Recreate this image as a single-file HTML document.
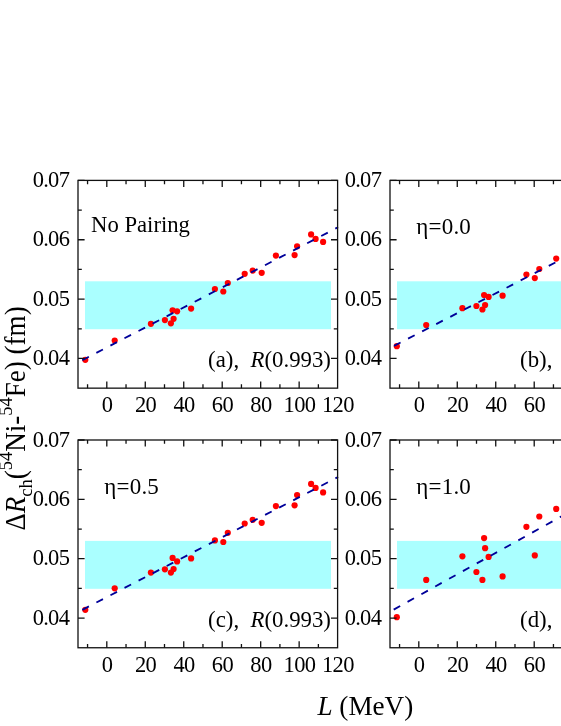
<!DOCTYPE html>
<html><head><meta charset="utf-8"><title>chart</title>
<style>
html,body{margin:0;padding:0;background:#fff;}
body{width:561px;height:726px;overflow:hidden;}
svg{display:block;will-change:transform;}
text{font-family:"Liberation Serif",serif;fill:#000;}
</style></head><body>
<svg width="561" height="726" viewBox="0 0 561 726">
<rect width="561" height="726" fill="#fff"/>
<g>
<rect x="85.0" y="281.3" width="246.0" height="47.9" fill="#aaffff"/>
<circle cx="85.3" cy="359.8" r="3.1" fill="#ff0000"/>
<circle cx="114.7" cy="340.5" r="3.1" fill="#ff0000"/>
<circle cx="150.9" cy="323.8" r="3.1" fill="#ff0000"/>
<circle cx="164.9" cy="320.1" r="3.1" fill="#ff0000"/>
<circle cx="170.9" cy="323.3" r="3.1" fill="#ff0000"/>
<circle cx="173.6" cy="318.8" r="3.1" fill="#ff0000"/>
<circle cx="172.6" cy="310.3" r="3.1" fill="#ff0000"/>
<circle cx="177.1" cy="311.3" r="3.1" fill="#ff0000"/>
<circle cx="191.1" cy="308.6" r="3.1" fill="#ff0000"/>
<circle cx="214.9" cy="289.0" r="3.1" fill="#ff0000"/>
<circle cx="223.3" cy="291.5" r="3.1" fill="#ff0000"/>
<circle cx="227.8" cy="283.0" r="3.1" fill="#ff0000"/>
<circle cx="244.7" cy="273.8" r="3.1" fill="#ff0000"/>
<circle cx="252.7" cy="270.6" r="3.1" fill="#ff0000"/>
<circle cx="261.7" cy="272.8" r="3.1" fill="#ff0000"/>
<circle cx="275.9" cy="255.6" r="3.1" fill="#ff0000"/>
<circle cx="294.6" cy="255.1" r="3.1" fill="#ff0000"/>
<circle cx="297.1" cy="246.3" r="3.1" fill="#ff0000"/>
<circle cx="311.1" cy="234.4" r="3.1" fill="#ff0000"/>
<circle cx="315.6" cy="238.9" r="3.1" fill="#ff0000"/>
<circle cx="323.1" cy="241.9" r="3.1" fill="#ff0000"/>
<line x1="82.3" y1="360.2" x2="338.1" y2="227.2" stroke="#000099" stroke-width="1.85" stroke-dasharray="7.4 8.44"/>
<path d="M87.56 180.40v3.8M87.56 388.15v-3.8M106.80 180.40v6.6M106.80 388.15v-6.6M126.03 180.40v3.8M126.03 388.15v-3.8M145.27 180.40v6.6M145.27 388.15v-6.6M164.50 180.40v3.8M164.50 388.15v-3.8M183.74 180.40v6.6M183.74 388.15v-6.6M202.97 180.40v3.8M202.97 388.15v-3.8M222.21 180.40v6.6M222.21 388.15v-6.6M241.44 180.40v3.8M241.44 388.15v-3.8M260.68 180.40v6.6M260.68 388.15v-6.6M279.92 180.40v3.8M279.92 388.15v-3.8M299.15 180.40v6.6M299.15 388.15v-6.6M318.38 180.40v3.8M318.38 388.15v-3.8M78.00 358.47h6.6M337.60 358.47h-6.6M78.00 328.79h3.8M337.60 328.79h-3.8M78.00 299.11h6.6M337.60 299.11h-6.6M78.00 269.44h3.8M337.60 269.44h-3.8M78.00 239.76h6.6M337.60 239.76h-6.6M78.00 210.08h3.8M337.60 210.08h-3.8M78.00 180.40h6.6M337.60 180.40h-6.6" stroke="#111" stroke-width="1.3" fill="none"/>
<rect x="78.0" y="180.4" width="259.6" height="207.75" fill="none" stroke="#111" stroke-width="1.3"/>
<text transform="translate(69.20,186.90) scale(1.0,1.05)" font-size="22.5" text-anchor="end" letter-spacing="-0.7" xml:space="preserve">0.07</text>
<text transform="translate(69.20,246.26) scale(1.0,1.05)" font-size="22.5" text-anchor="end" letter-spacing="-0.7" xml:space="preserve">0.06</text>
<text transform="translate(69.20,305.61) scale(1.0,1.05)" font-size="22.5" text-anchor="end" letter-spacing="-0.7" xml:space="preserve">0.05</text>
<text transform="translate(69.20,364.97) scale(1.0,1.05)" font-size="22.5" text-anchor="end" letter-spacing="-0.7" xml:space="preserve">0.04</text>
<text transform="translate(107.10,412.35) scale(1.0,1.05)" font-size="22.5" text-anchor="middle" letter-spacing="-0.6" xml:space="preserve">0</text>
<text transform="translate(145.57,412.35) scale(1.0,1.05)" font-size="22.5" text-anchor="middle" letter-spacing="-0.6" xml:space="preserve">20</text>
<text transform="translate(184.04,412.35) scale(1.0,1.05)" font-size="22.5" text-anchor="middle" letter-spacing="-0.6" xml:space="preserve">40</text>
<text transform="translate(222.51,412.35) scale(1.0,1.05)" font-size="22.5" text-anchor="middle" letter-spacing="-0.6" xml:space="preserve">60</text>
<text transform="translate(260.98,412.35) scale(1.0,1.05)" font-size="22.5" text-anchor="middle" letter-spacing="-0.6" xml:space="preserve">80</text>
<text transform="translate(299.45,412.35) scale(1.0,1.05)" font-size="22.5" text-anchor="middle" letter-spacing="-0.6" xml:space="preserve">100</text>
<text transform="translate(337.92,412.35) scale(1.0,1.05)" font-size="22.5" text-anchor="middle" letter-spacing="-0.6" xml:space="preserve">120</text>
</g>
<g>
<rect x="397.0" y="281.3" width="246.0" height="47.9" fill="#aaffff"/>
<circle cx="396.8" cy="346.2" r="3.1" fill="#ff0000"/>
<circle cx="426.2" cy="325.1" r="3.1" fill="#ff0000"/>
<circle cx="462.4" cy="308.2" r="3.1" fill="#ff0000"/>
<circle cx="476.4" cy="306.0" r="3.1" fill="#ff0000"/>
<circle cx="482.4" cy="309.5" r="3.1" fill="#ff0000"/>
<circle cx="485.1" cy="305.1" r="3.1" fill="#ff0000"/>
<circle cx="484.1" cy="295.0" r="3.1" fill="#ff0000"/>
<circle cx="488.6" cy="296.9" r="3.1" fill="#ff0000"/>
<circle cx="502.6" cy="295.7" r="3.1" fill="#ff0000"/>
<circle cx="526.4" cy="274.6" r="3.1" fill="#ff0000"/>
<circle cx="534.8" cy="278.1" r="3.1" fill="#ff0000"/>
<circle cx="539.3" cy="269.0" r="3.1" fill="#ff0000"/>
<circle cx="556.2" cy="258.6" r="3.1" fill="#ff0000"/>
<line x1="394.0" y1="345.9" x2="566" y2="257.0" stroke="#000099" stroke-width="1.85" stroke-dasharray="7.4 8.44"/>
<path d="M399.56 180.40v3.8M399.56 388.15v-3.8M418.80 180.40v6.6M418.80 388.15v-6.6M438.04 180.40v3.8M438.04 388.15v-3.8M457.27 180.40v6.6M457.27 388.15v-6.6M476.50 180.40v3.8M476.50 388.15v-3.8M495.74 180.40v6.6M495.74 388.15v-6.6M514.98 180.40v3.8M514.98 388.15v-3.8M534.21 180.40v6.6M534.21 388.15v-6.6M553.45 180.40v3.8M553.45 388.15v-3.8M572.68 180.40v6.6M572.68 388.15v-6.6M591.91 180.40v3.8M591.91 388.15v-3.8M611.15 180.40v6.6M611.15 388.15v-6.6M630.38 180.40v3.8M630.38 388.15v-3.8M390.00 358.47h6.6M649.60 358.47h-6.6M390.00 328.79h3.8M649.60 328.79h-3.8M390.00 299.11h6.6M649.60 299.11h-6.6M390.00 269.44h3.8M649.60 269.44h-3.8M390.00 239.76h6.6M649.60 239.76h-6.6M390.00 210.08h3.8M649.60 210.08h-3.8M390.00 180.40h6.6M649.60 180.40h-6.6" stroke="#111" stroke-width="1.3" fill="none"/>
<rect x="390.0" y="180.4" width="259.6" height="207.75" fill="none" stroke="#111" stroke-width="1.3"/>
<text transform="translate(381.20,186.90) scale(1.0,1.05)" font-size="22.5" text-anchor="end" letter-spacing="-0.7" xml:space="preserve">0.07</text>
<text transform="translate(381.20,246.26) scale(1.0,1.05)" font-size="22.5" text-anchor="end" letter-spacing="-0.7" xml:space="preserve">0.06</text>
<text transform="translate(381.20,305.61) scale(1.0,1.05)" font-size="22.5" text-anchor="end" letter-spacing="-0.7" xml:space="preserve">0.05</text>
<text transform="translate(381.20,364.97) scale(1.0,1.05)" font-size="22.5" text-anchor="end" letter-spacing="-0.7" xml:space="preserve">0.04</text>
<text transform="translate(419.10,412.35) scale(1.0,1.05)" font-size="22.5" text-anchor="middle" letter-spacing="-0.6" xml:space="preserve">0</text>
<text transform="translate(457.57,412.35) scale(1.0,1.05)" font-size="22.5" text-anchor="middle" letter-spacing="-0.6" xml:space="preserve">20</text>
<text transform="translate(496.04,412.35) scale(1.0,1.05)" font-size="22.5" text-anchor="middle" letter-spacing="-0.6" xml:space="preserve">40</text>
<text transform="translate(534.51,412.35) scale(1.0,1.05)" font-size="22.5" text-anchor="middle" letter-spacing="-0.6" xml:space="preserve">60</text>
<text transform="translate(572.98,412.35) scale(1.0,1.05)" font-size="22.5" text-anchor="middle" letter-spacing="-0.6" xml:space="preserve">80</text>
<text transform="translate(611.45,412.35) scale(1.0,1.05)" font-size="22.5" text-anchor="middle" letter-spacing="-0.6" xml:space="preserve">100</text>
<text transform="translate(649.92,412.35) scale(1.0,1.05)" font-size="22.5" text-anchor="middle" letter-spacing="-0.6" xml:space="preserve">120</text>
</g>
<g>
<rect x="85.0" y="540.9" width="246.0" height="47.9" fill="#aaffff"/>
<circle cx="85.3" cy="609.8" r="3.1" fill="#ff0000"/>
<circle cx="114.7" cy="588.3" r="3.1" fill="#ff0000"/>
<circle cx="150.9" cy="572.6" r="3.1" fill="#ff0000"/>
<circle cx="164.9" cy="569.3" r="3.1" fill="#ff0000"/>
<circle cx="170.9" cy="572.6" r="3.1" fill="#ff0000"/>
<circle cx="173.6" cy="569.1" r="3.1" fill="#ff0000"/>
<circle cx="172.6" cy="557.9" r="3.1" fill="#ff0000"/>
<circle cx="177.1" cy="561.4" r="3.1" fill="#ff0000"/>
<circle cx="191.1" cy="558.4" r="3.1" fill="#ff0000"/>
<circle cx="214.9" cy="540.4" r="3.1" fill="#ff0000"/>
<circle cx="223.3" cy="542.0" r="3.1" fill="#ff0000"/>
<circle cx="227.8" cy="532.8" r="3.1" fill="#ff0000"/>
<circle cx="244.7" cy="523.5" r="3.1" fill="#ff0000"/>
<circle cx="252.7" cy="519.8" r="3.1" fill="#ff0000"/>
<circle cx="261.7" cy="522.8" r="3.1" fill="#ff0000"/>
<circle cx="275.9" cy="506.1" r="3.1" fill="#ff0000"/>
<circle cx="294.6" cy="505.3" r="3.1" fill="#ff0000"/>
<circle cx="297.1" cy="495.1" r="3.1" fill="#ff0000"/>
<circle cx="311.1" cy="483.9" r="3.1" fill="#ff0000"/>
<circle cx="315.6" cy="487.9" r="3.1" fill="#ff0000"/>
<circle cx="323.1" cy="492.4" r="3.1" fill="#ff0000"/>
<line x1="82.35" y1="609.82" x2="338.1" y2="477.0" stroke="#000099" stroke-width="1.85" stroke-dasharray="7.4 8.44"/>
<path d="M87.56 440.00v3.8M87.56 647.75v-3.8M106.80 440.00v6.6M106.80 647.75v-6.6M126.03 440.00v3.8M126.03 647.75v-3.8M145.27 440.00v6.6M145.27 647.75v-6.6M164.50 440.00v3.8M164.50 647.75v-3.8M183.74 440.00v6.6M183.74 647.75v-6.6M202.97 440.00v3.8M202.97 647.75v-3.8M222.21 440.00v6.6M222.21 647.75v-6.6M241.44 440.00v3.8M241.44 647.75v-3.8M260.68 440.00v6.6M260.68 647.75v-6.6M279.92 440.00v3.8M279.92 647.75v-3.8M299.15 440.00v6.6M299.15 647.75v-6.6M318.38 440.00v3.8M318.38 647.75v-3.8M78.00 618.07h6.6M337.60 618.07h-6.6M78.00 588.39h3.8M337.60 588.39h-3.8M78.00 558.71h6.6M337.60 558.71h-6.6M78.00 529.04h3.8M337.60 529.04h-3.8M78.00 499.36h6.6M337.60 499.36h-6.6M78.00 469.68h3.8M337.60 469.68h-3.8M78.00 440.00h6.6M337.60 440.00h-6.6" stroke="#111" stroke-width="1.3" fill="none"/>
<rect x="78.0" y="440.0" width="259.6" height="207.75" fill="none" stroke="#111" stroke-width="1.3"/>
<text transform="translate(69.20,446.50) scale(1.0,1.05)" font-size="22.5" text-anchor="end" letter-spacing="-0.7" xml:space="preserve">0.07</text>
<text transform="translate(69.20,505.86) scale(1.0,1.05)" font-size="22.5" text-anchor="end" letter-spacing="-0.7" xml:space="preserve">0.06</text>
<text transform="translate(69.20,565.21) scale(1.0,1.05)" font-size="22.5" text-anchor="end" letter-spacing="-0.7" xml:space="preserve">0.05</text>
<text transform="translate(69.20,624.57) scale(1.0,1.05)" font-size="22.5" text-anchor="end" letter-spacing="-0.7" xml:space="preserve">0.04</text>
<text transform="translate(107.10,671.95) scale(1.0,1.05)" font-size="22.5" text-anchor="middle" letter-spacing="-0.6" xml:space="preserve">0</text>
<text transform="translate(145.57,671.95) scale(1.0,1.05)" font-size="22.5" text-anchor="middle" letter-spacing="-0.6" xml:space="preserve">20</text>
<text transform="translate(184.04,671.95) scale(1.0,1.05)" font-size="22.5" text-anchor="middle" letter-spacing="-0.6" xml:space="preserve">40</text>
<text transform="translate(222.51,671.95) scale(1.0,1.05)" font-size="22.5" text-anchor="middle" letter-spacing="-0.6" xml:space="preserve">60</text>
<text transform="translate(260.98,671.95) scale(1.0,1.05)" font-size="22.5" text-anchor="middle" letter-spacing="-0.6" xml:space="preserve">80</text>
<text transform="translate(299.45,671.95) scale(1.0,1.05)" font-size="22.5" text-anchor="middle" letter-spacing="-0.6" xml:space="preserve">100</text>
<text transform="translate(337.92,671.95) scale(1.0,1.05)" font-size="22.5" text-anchor="middle" letter-spacing="-0.6" xml:space="preserve">120</text>
</g>
<g>
<rect x="397.0" y="540.9" width="246.0" height="47.9" fill="#aaffff"/>
<circle cx="396.8" cy="617.2" r="3.1" fill="#ff0000"/>
<circle cx="426.2" cy="579.9" r="3.1" fill="#ff0000"/>
<circle cx="462.4" cy="556.3" r="3.1" fill="#ff0000"/>
<circle cx="476.4" cy="572.0" r="3.1" fill="#ff0000"/>
<circle cx="482.4" cy="579.9" r="3.1" fill="#ff0000"/>
<circle cx="485.1" cy="548.2" r="3.1" fill="#ff0000"/>
<circle cx="484.1" cy="538.1" r="3.1" fill="#ff0000"/>
<circle cx="488.6" cy="556.9" r="3.1" fill="#ff0000"/>
<circle cx="502.6" cy="576.4" r="3.1" fill="#ff0000"/>
<circle cx="526.4" cy="526.8" r="3.1" fill="#ff0000"/>
<circle cx="534.8" cy="555.4" r="3.1" fill="#ff0000"/>
<circle cx="539.3" cy="516.5" r="3.1" fill="#ff0000"/>
<circle cx="556.2" cy="508.9" r="3.1" fill="#ff0000"/>
<line x1="393.7" y1="609.6" x2="568.2" y2="512.6" stroke="#000099" stroke-width="1.85" stroke-dasharray="7.4 8.44"/>
<path d="M399.56 440.00v3.8M399.56 647.75v-3.8M418.80 440.00v6.6M418.80 647.75v-6.6M438.04 440.00v3.8M438.04 647.75v-3.8M457.27 440.00v6.6M457.27 647.75v-6.6M476.50 440.00v3.8M476.50 647.75v-3.8M495.74 440.00v6.6M495.74 647.75v-6.6M514.98 440.00v3.8M514.98 647.75v-3.8M534.21 440.00v6.6M534.21 647.75v-6.6M553.45 440.00v3.8M553.45 647.75v-3.8M572.68 440.00v6.6M572.68 647.75v-6.6M591.91 440.00v3.8M591.91 647.75v-3.8M611.15 440.00v6.6M611.15 647.75v-6.6M630.38 440.00v3.8M630.38 647.75v-3.8M390.00 618.07h6.6M649.60 618.07h-6.6M390.00 588.39h3.8M649.60 588.39h-3.8M390.00 558.71h6.6M649.60 558.71h-6.6M390.00 529.04h3.8M649.60 529.04h-3.8M390.00 499.36h6.6M649.60 499.36h-6.6M390.00 469.68h3.8M649.60 469.68h-3.8M390.00 440.00h6.6M649.60 440.00h-6.6" stroke="#111" stroke-width="1.3" fill="none"/>
<rect x="390.0" y="440.0" width="259.6" height="207.75" fill="none" stroke="#111" stroke-width="1.3"/>
<text transform="translate(381.20,446.50) scale(1.0,1.05)" font-size="22.5" text-anchor="end" letter-spacing="-0.7" xml:space="preserve">0.07</text>
<text transform="translate(381.20,505.86) scale(1.0,1.05)" font-size="22.5" text-anchor="end" letter-spacing="-0.7" xml:space="preserve">0.06</text>
<text transform="translate(381.20,565.21) scale(1.0,1.05)" font-size="22.5" text-anchor="end" letter-spacing="-0.7" xml:space="preserve">0.05</text>
<text transform="translate(381.20,624.57) scale(1.0,1.05)" font-size="22.5" text-anchor="end" letter-spacing="-0.7" xml:space="preserve">0.04</text>
<text transform="translate(419.10,671.95) scale(1.0,1.05)" font-size="22.5" text-anchor="middle" letter-spacing="-0.6" xml:space="preserve">0</text>
<text transform="translate(457.57,671.95) scale(1.0,1.05)" font-size="22.5" text-anchor="middle" letter-spacing="-0.6" xml:space="preserve">20</text>
<text transform="translate(496.04,671.95) scale(1.0,1.05)" font-size="22.5" text-anchor="middle" letter-spacing="-0.6" xml:space="preserve">40</text>
<text transform="translate(534.51,671.95) scale(1.0,1.05)" font-size="22.5" text-anchor="middle" letter-spacing="-0.6" xml:space="preserve">60</text>
<text transform="translate(572.98,671.95) scale(1.0,1.05)" font-size="22.5" text-anchor="middle" letter-spacing="-0.6" xml:space="preserve">80</text>
<text transform="translate(611.45,671.95) scale(1.0,1.05)" font-size="22.5" text-anchor="middle" letter-spacing="-0.6" xml:space="preserve">100</text>
<text transform="translate(649.92,671.95) scale(1.0,1.05)" font-size="22.5" text-anchor="middle" letter-spacing="-0.6" xml:space="preserve">120</text>
</g>
<text transform="translate(91.00,231.50) scale(1.0,1.0)" font-size="22.7" xml:space="preserve">No Pairing</text>
<text transform="translate(416.30,234.40) scale(1.0,1.0)" font-size="23" letter-spacing="0.2" xml:space="preserve">η=0.0</text>
<text transform="translate(104.30,494.40) scale(1.0,1.0)" font-size="23" letter-spacing="0.2" xml:space="preserve">η=0.5</text>
<text transform="translate(416.30,494.40) scale(1.0,1.0)" font-size="23" letter-spacing="0.2" xml:space="preserve">η=1.0</text>
<text transform="translate(208.10,367.00) scale(1.0,1.0)" font-size="22.8" xml:space="preserve">(a),  <tspan font-style="italic">R</tspan>(0.993)</text>
<text transform="translate(208.10,627.00) scale(1.0,1.0)" font-size="22.8" xml:space="preserve">(c),  <tspan font-style="italic">R</tspan>(0.993)</text>
<text transform="translate(520.10,367.00) scale(1.0,1.0)" font-size="22.8" xml:space="preserve">(b),  <tspan font-style="italic">R</tspan>(0.993)</text>
<text transform="translate(520.10,627.00) scale(1.0,1.0)" font-size="22.8" xml:space="preserve">(d),  <tspan font-style="italic">R</tspan>(0.993)</text>
<text transform="translate(317.40,715.40) scale(1.0,1.0)" font-size="27.2" xml:space="preserve"><tspan font-style="italic">L</tspan> (MeV)</text>
<text transform="translate(24.50,530.60) rotate(-90) scale(1.0,1.07)" font-size="27.05" xml:space="preserve">Δ<tspan font-style="italic">R</tspan><tspan font-size="18.5" dy="7.0">ch</tspan><tspan dy="-7.0">(</tspan><tspan font-size="18.5" dy="-11.3">54</tspan><tspan dy="11.3">Ni-</tspan><tspan font-size="18.5" dy="-11.3">54</tspan><tspan dy="11.3">Fe) (fm)</tspan></text>
</svg></body></html>
